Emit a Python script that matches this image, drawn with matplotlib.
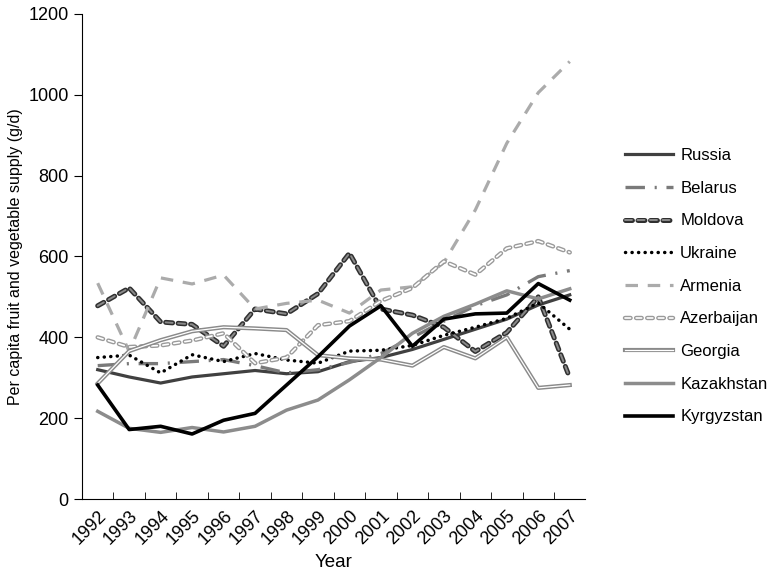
import matplotlib
matplotlib.use("Agg")
import matplotlib.pyplot as plt
import matplotlib.patheffects as pe

plt.rcParams['font.family'] = ['Liberation Sans', 'DejaVu Sans']
plt.rcParams['font.size'] = 11
plt.rcParams['lines.scale_dashes'] = False

years = list(range(1992, 2008))

russia = [320, 302, 287, 302, 310, 318, 310, 315, 340, 350, 370, 395, 420, 445, 480, 505]
belarus = [330, 335, 335, 340, 345, 330, 312, 320, 338, 360, 400, 440, 478, 505, 550, 565]
moldova = [478, 522, 438, 432, 378, 470, 458, 508, 608, 470, 455, 425, 365, 412, 500, 300]
ukraine = [350, 356, 312, 357, 340, 360, 344, 336, 366, 368, 380, 405, 425, 447, 485, 420]
armenia = [534, 365, 547, 532, 554, 470, 484, 492, 460, 517, 525, 585, 715, 880, 1005, 1082]
azerbaijan = [400, 376, 380, 392, 410, 336, 350, 430, 440, 490, 522, 588, 555, 620, 638, 610]
georgia = [286, 366, 393, 415, 425, 422, 418, 356, 348, 345, 330, 376, 348, 400, 275, 282]
kazakhstan = [217, 175, 165, 177, 166, 180, 220, 245, 295, 350, 410, 452, 482, 515, 495, 520]
kyrgyzstan = [282, 172, 180, 161, 195, 212, 282, 352, 428, 478, 378, 445, 458, 460, 533, 492]

fig = plt.figure(figsize=(7.77, 5.75), dpi=100)
ax = fig.add_axes([0.1055, 0.132, 0.648, 0.844])
x = list(range(len(years)))

ax.plot(x, russia, color='#404040', lw=2.3, label='Russia')
ax.plot(x, belarus, color='#7a7a7a', lw=2.4, dashes=(14, 7, 1.5, 7), label='Belarus')
ax.plot(x, moldova, color='#8a8a8a', lw=1.4, dashes=(5, 4), dash_capstyle='round',
        path_effects=[pe.Stroke(linewidth=3.6, foreground='#303030'), pe.Normal()],
        label='Moldova')
ax.plot(x, ukraine, color='black', lw=2.5, dashes=(0.1, 4.6), dash_capstyle='round',
        label='Ukraine')
ax.plot(x, armenia, color='#ababab', lw=2.3, dashes=(9, 7), label='Armenia')
ax.plot(x, azerbaijan, color='white', lw=1.2, dashes=(4, 4), dash_capstyle='round',
        path_effects=[pe.Stroke(linewidth=3.2, foreground='#9a9a9a'), pe.Normal()],
        label='Azerbaijan')
ax.plot(x, georgia, color='white', lw=0.9,
        path_effects=[pe.Stroke(linewidth=3.0, foreground='#8a8a8a'), pe.Normal()],
        label='Georgia')
ax.plot(x, kazakhstan, color='#8c8c8c', lw=2.5, label='Kazakhstan')
ax.plot(x, kyrgyzstan, color='black', lw=2.6, label='Kyrgyzstan')

ax.set_xlim(-0.5, len(years) - 0.5)
ax.set_ylim(0, 1200)
ax.set_yticks(range(0, 1201, 200))
ax.set_xticks(x)
ax.set_xticklabels([str(y) for y in years], rotation=45, ha='right',
                   rotation_mode='anchor')
ax.set_xticks([i + 0.5 for i in range(len(years) - 1)], minor=True)
ax.tick_params(axis='x', which='major', length=0, pad=6, labelsize=13)
ax.tick_params(axis='x', which='minor', length=5, direction='in')
ax.tick_params(axis='y', length=6, direction='out', labelsize=13)
for s in ['top', 'right']:
    ax.spines[s].set_visible(False)
ax.set_xlabel('Year', fontsize=13.5)
ax.set_ylabel('Per capita fruit and vegetable supply (g/d)', fontsize=11.5)

ax.legend(loc='upper left', bbox_to_anchor=(0.796, 0.754), bbox_transform=fig.transFigure,
          frameon=False, handlelength=2.9, labelspacing=1.06, fontsize=12,
          borderaxespad=0, handletextpad=0.4)

fig.savefig('out.png', dpi=100)
